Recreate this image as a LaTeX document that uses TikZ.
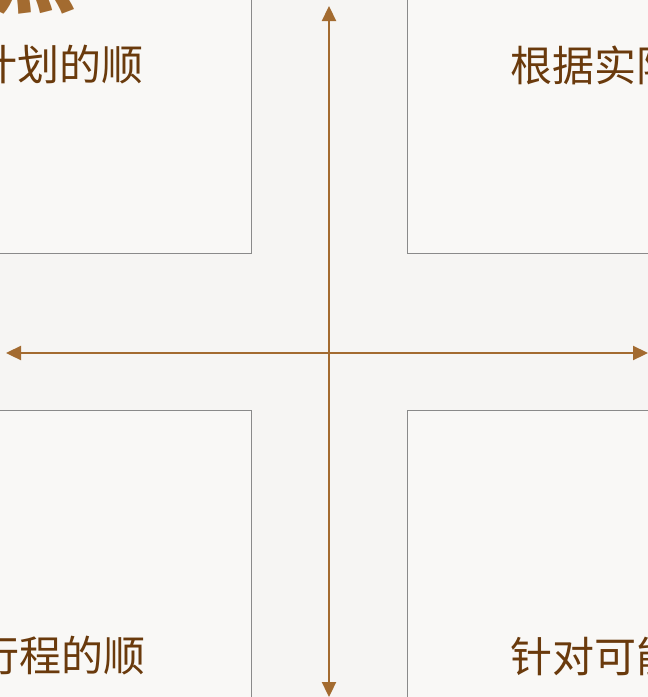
\documentclass[tikz,border=0pt]{standalone}
\usepackage{fontspec}
\newfontfamily\cjk{Noto Sans CJK SC}
\usetikzlibrary{arrows.meta}
\definecolor{bg}{HTML}{F6F5F3}
\definecolor{boxfill}{HTML}{F9F8F6}
\definecolor{boxline}{HTML}{8A8A8A}
\definecolor{axis}{HTML}{A36B30}
\definecolor{txt}{HTML}{6A3A0C}
\tikzset{
  quad/.style={draw=boxline, line width=0.9pt, fill=boxfill, minimum width=300pt, minimum height=300pt, inner sep=0pt},
  qtext/.style={text=txt, font=\cjk\fontsize{42}{42}\selectfont, inner sep=0pt, anchor=west},
  axisline/.style={draw=axis, line width=2.3pt, -{Triangle[length=15pt,width=14pt]}},
}
\begin{document}
\begin{tikzpicture}[x=1pt,y=-1pt]
\useasboundingbox (0,0) rectangle (648,697);
\clip (0,0) rectangle (648,697);
\fill[bg] (0,0) rectangle (648,697);
% quadrant boxes
\node[quad, anchor=south east] (tl) at (252,254) {};
\node[quad, anchor=south west] (tr) at (407,254) {};
\node[quad, anchor=north east] (bl) at (252,410) {};
\node[quad, anchor=north west] (br) at (407,410) {};
% partial title
\node[text=axis, font=\cjk\bfseries\fontsize{86}{86}\selectfont, inner sep=0pt, anchor=base west] (title) at (-10,6) {点};
% texts
\node[qtext] (t1) at (-25,65) {计划的顺};
\node[qtext] (t2) at (510,65) {根据实际};
\node[qtext] (t3) at (-23,656) {行程的顺};
\node[qtext] (t4) at (510,656) {针对可能};
% axes
\coordinate (c) at (329,353);
\coordinate (up) at (329,6);
\coordinate (down) at (329,697);
\coordinate (left) at (6,353);
\coordinate (right) at (648,353);
\draw[axisline] (c) -- (up);
\draw[axisline] (c) -- (down);
\draw[axisline] (c) -- (left);
\draw[axisline] (c) -- (right);
\end{tikzpicture}
\end{document}
